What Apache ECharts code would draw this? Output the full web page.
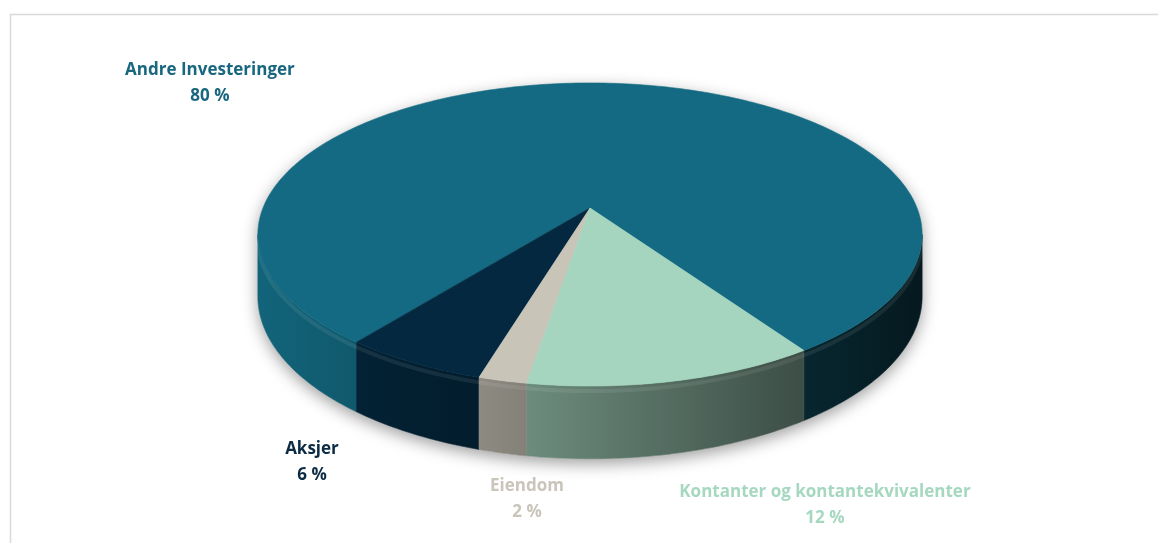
<!DOCTYPE html>
<html><head><meta charset="utf-8">
<script src="https://cdn.jsdelivr.net/npm/echarts/dist/echarts.min.js"></script>
<style>html,body{margin:0;padding:0;background:#fff}#c{width:1158px;height:543px}</style>
</head><body><div id="c"></div>
<script>
// ---- data ----
const categories = ['Andre Investeringer', 'Aksjer', 'Eiendom', 'Kontanter og kontantekvivalenter'];
const values = [80, 6, 2, 12];
const valueLabels = ['80 %', '6 %', '2 %', '12 %'];

// ---- styles / layout (kept separate from data) ----
const sliceColors = ['#136a82', '#03283f', '#c8c4b8', '#a5d5be'];
const labelColors = ['#18677f', '#0b2b44', '#c9c5bb', '#a6d8c1'];
const labelAnchors = [[0.1813, 0.1538], [0.2694, 0.8508], [0.4551, 0.9199], [0.7124, 0.930]];
const startAngle = 416;           // parametric angle where the first slice ends
const geo = {cx: 0.5095, cy: 0.383, A: 0.2824, B: 0.2705, H: 0.1105, k: 0.175};

function darken(hex, t) {
  const n = parseInt(hex.slice(1), 16);
  const r = (n >> 16) & 255, g = (n >> 8) & 255, b = n & 255;
  const f = c => Math.round(c * (1 - t));
  return 'rgb(' + f(r) + ',' + f(g) + ',' + f(b) + ')';
}

const total = values.reduce((a, b) => a + b, 0);
let cur = startAngle;
const seriesData = values.map((v, i) => {
  const span = v / total * 360;
  const a1 = cur, a0 = cur - span;
  cur = a0;
  return {name: categories[i], value: [v, a0, a1]};
});

function makeG(W, Hh) {
  return {cx: geo.cx * W, cy: geo.cy * Hh, A: geo.A * W, B: geo.B * Hh, H: geo.H * Hh, k: geo.k};
}
function proj(phi, drop, G) {
  const p = phi * Math.PI / 180, u = Math.cos(p), v = Math.sin(p), w = 1 - G.k * v;
  return [G.cx + G.A * u / w, G.cy + G.B * v / w + drop * G.H / w];
}
function arc(a0, a1, drop, G) {
  const n = Math.max(2, Math.ceil(Math.abs(a1 - a0)));
  const pts = [];
  for (let i = 0; i <= n; i++) pts.push(proj(a0 + (a1 - a0) * i / n, drop, G));
  return pts;
}

function renderItem(params, api) {
  const W = api.getWidth(), Hh = api.getHeight();
  const G = makeG(W, Hh);
  const i = params.dataIndex;
  const a0 = api.value(1), a1 = api.value(2);
  const col = sliceColors[i];
  const lo = Math.asin(G.k) * 180 / Math.PI, hi = 180 - lo;
  const xL = G.cx - G.A / Math.sqrt(1 - G.k * G.k), xR = G.cx + G.A / Math.sqrt(1 - G.k * G.k);
  const children = [];
  if (i === 0) {
    const sh = arc(lo, hi, 1, G).concat(arc(hi, lo + 360, 0, G));
    children.push({type: 'polygon', z2: 0, shape: {points: sh},
      style: {fill: '#ffffff', shadowColor: 'rgba(0,0,0,0.38)', shadowBlur: 16, shadowOffsetY: 5}});
  }
  const sideFill = new echarts.graphic.LinearGradient(xL, 0, xR, 0, [
    {offset: 0, color: darken(col, 0.06)}, {offset: 1, color: darken(col, 0.76)}], true);
  for (const off of [-360, 0, 360]) {
    const s = Math.max(a0, lo + off), e = Math.min(a1, hi + off);
    if (s < e) {
      const pts = arc(s, e, 0, G).concat(arc(e, s, 1, G));
      children.push({type: 'polygon', z2: 1, shape: {points: pts},
        style: {fill: sideFill, stroke: sideFill, lineWidth: 0.6}});
      children.push({type: 'polyline', z2: 2, shape: {points: arc(s, e, 0.07, G)},
        style: {fill: null, stroke: 'rgba(255,255,255,0.08)', lineWidth: 4}});
    }
  }
  const top = [[G.cx, G.cy]].concat(arc(a0, a1, 0, G));
  children.push({type: 'polygon', z2: 3, shape: {points: top},
    style: {fill: col, stroke: col, lineWidth: 0.6}});
  children.push({type: 'text', z2: 4,
    x: labelAnchors[i][0] * W, y: labelAnchors[i][1] * Hh,
    style: {text: categories[i] + '\n' + valueLabels[i], align: 'center', verticalAlign: 'middle',
      lineHeight: 26, fontFamily: '"Open Sans", sans-serif', fontWeight: 'bold', fontSize: 17,
      fill: labelColors[i]}});
  return {type: 'group', children: children};
}

const chart = echarts.init(document.getElementById('c'), null, {renderer: 'canvas'});
chart.setOption({
  backgroundColor: '#ffffff',
  animation: false,
  graphic: [{type: 'rect', left: 8, top: 12, z: -10,
    shape: {x: 0.5, y: 0.5, width: 1170, height: 560},
    style: {fill: 'none', stroke: '#d9d9d9', lineWidth: 1.5}}],
  series: [{type: 'custom', coordinateSystem: 'none', renderItem: renderItem, data: seriesData}]
});
</script>
</body></html>
